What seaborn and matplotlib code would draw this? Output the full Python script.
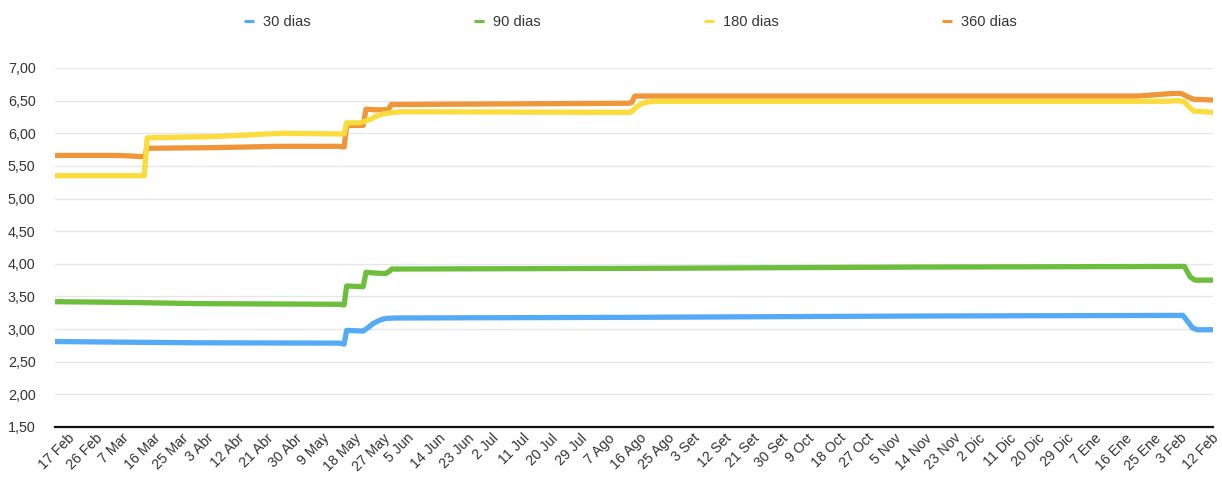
import numpy as np
import pandas as pd
import matplotlib
matplotlib.use("Agg")
import matplotlib.pyplot as plt
import seaborn as sns
from matplotlib.ticker import FuncFormatter

# ---- data (day offset from 17 Feb, value) ----
s30_days = [-1, 20, 45, 89, 90.5, 91.3, 96.5, 98, 99.5, 101, 102.5, 104, 107, 180, 270, 354.5, 356.3, 357.5, 359, 364]
s30_vals = [2.81, 2.80, 2.79, 2.785, 2.77, 2.98, 2.97, 3.02, 3.08, 3.12, 3.15, 3.165, 3.17, 3.18, 3.20, 3.21, 3.10, 3.02, 2.99, 2.99]

s90_days = [-1, 20, 45, 89, 90.5, 91.3, 96.5, 97.4, 100, 103.5, 104.6, 105.5, 180, 270, 355, 356.8, 358.3, 364]
s90_vals = [3.42, 3.41, 3.39, 3.38, 3.37, 3.66, 3.65, 3.87, 3.86, 3.85, 3.88, 3.92, 3.93, 3.95, 3.96, 3.80, 3.75, 3.75]

s180_days = [-1, 27.6, 28.5, 50, 71, 89, 90.5, 91.3, 95, 97, 99, 101, 103, 106, 109, 180, 181, 182.5, 184, 186, 189, 270, 350, 353, 355, 356.5, 358, 364]
s180_vals = [5.35, 5.35, 5.93, 5.95, 6.00, 5.99, 5.99, 6.16, 6.16, 6.18, 6.22, 6.27, 6.30, 6.32, 6.33, 6.32, 6.33, 6.40, 6.45, 6.48, 6.49, 6.49, 6.49, 6.50, 6.48, 6.40, 6.34, 6.32]

s360_days = [-1, 20, 24, 27.6, 28.5, 50, 70, 89, 90.5, 91.3, 96.5, 97.4, 100, 104.4, 105.3, 180, 181, 182, 340, 346, 351, 354, 356, 358, 364]
s360_vals = [5.66, 5.66, 5.65, 5.64, 5.77, 5.78, 5.80, 5.80, 5.79, 6.12, 6.12, 6.37, 6.36, 6.36, 6.44, 6.46, 6.47, 6.57, 6.57, 6.59, 6.61, 6.61, 6.56, 6.52, 6.51]

series_names = ["30 dias", "90 dias", "180 dias", "360 dias"]
colors = ["#55aaf6", "#6cbe3c", "#fcdc3c", "#f0963a"]

tick_labels = ["17 Feb", "26 Feb", "7 Mar", "16 Mar", "25 Mar", "3 Abr", "12 Abr", "21 Abr", "30 Abr",
               "9 May", "18 May", "27 May", "5 Jun", "14 Jun", "23 Jun", "2 Jul", "11 Jul", "20 Jul",
               "29 Jul", "7 Ago", "16 Ago", "25 Ago", "3 Set", "12 Set", "21 Set", "30 Set", "9 Oct",
               "18 Oct", "27 Oct", "5 Nov", "14 Nov", "23 Nov", "2 Dic", "11 Dic", "20 Dic", "29 Dic",
               "7 Ene", "16 Ene", "25 Ene", "3 Feb", "12 Feb"]
y_ticks = [1.5, 2.0, 2.5, 3.0, 3.5, 4.0, 4.5, 5.0, 5.5, 6.0, 6.5, 7.0]

# ---- build table ----
frames = []
for name, d, v in zip(series_names,
                      [s30_days, s90_days, s180_days, s360_days],
                      [s30_vals, s90_vals, s180_vals, s360_vals]):
    frames.append(pd.DataFrame({"day": d, "value": v, "serie": name}))
df = pd.concat(frames, ignore_index=True)

sns.set_style("white")
plt.rcParams["font.family"] = ["Liberation Sans", "DejaVu Sans"]

W, H = 1222, 478
fig = plt.figure(figsize=(W / 100, H / 100), dpi=100)
ax = fig.add_axes([55 / W, 51 / H, 1158 / W, 359 / H])

sns.lineplot(data=df, x="day", y="value", hue="serie", hue_order=series_names,
             palette=colors, linewidth=3.8, estimator=None, sort=True, ax=ax,
             legend=True)
for ln in ax.lines:
    ln.set_solid_capstyle("round")
    ln.set_solid_joinstyle("round")
# yellow drawn above orange
if len(ax.lines) >= 4:
    ax.lines[2].set_zorder(2.5)

ax.set_xlim(-0.5, 364)
ax.set_ylim(1.5, 7.0)
ax.set_yticks(y_ticks)
ax.yaxis.set_major_formatter(FuncFormatter(lambda v, p: f"{v:.2f}".replace(".", ",")))
ax.set_xticks(np.arange(len(tick_labels)) * 9)
ax.set_xticklabels(tick_labels, rotation=45, ha="center")
ax.tick_params(axis="y", length=0, pad=14, labelsize=10.3, labelcolor="#333333")
ax.tick_params(axis="x", length=0, pad=3, labelsize=10.2, labelcolor="#333333")
ax.set_xlabel("")
ax.set_ylabel("")

ax.grid(axis="y", color="#e6e6e6", linewidth=1.0)
ax.grid(axis="x", visible=False)
for s in ["top", "right", "left"]:
    ax.spines[s].set_visible(False)
ax.spines["bottom"].set_color("#111111")
ax.spines["bottom"].set_linewidth(1.6)
ax.spines["bottom"].set_zorder(3)

handles, labels = ax.get_legend_handles_labels()
leg = ax.legend(handles, labels, loc="center", bbox_to_anchor=(0.497, 1.128), ncol=4,
                frameon=False, fontsize=10.5, handlelength=0.7, handletextpad=0.6,
                columnspacing=11.2)
for h in leg.legend_handles:
    h.set_linewidth(2.2)
    h.set_solid_capstyle("butt")
for t in leg.get_texts():
    t.set_color("#333333")

fig.savefig("out.png", dpi=100, facecolor="white")
